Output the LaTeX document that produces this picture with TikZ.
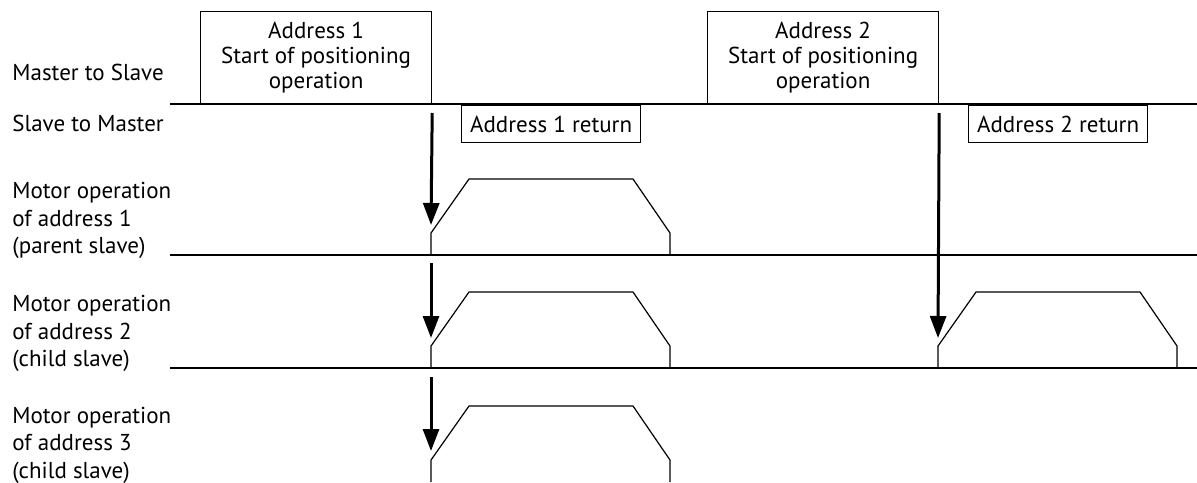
\documentclass[tikz,border=0pt]{standalone}
\usepackage{fontspec}
\setmainfont{PT Sans}
\usetikzlibrary{arrows.meta}

\tikzset{
  lbl/.style={font=\fontsize{11.5}{13.75}\selectfont, align=left, inner sep=0pt, anchor=west},
  cmdbox/.style={draw, line width=0.6pt, font=\fontsize{11.5}{12.5}\selectfont, align=center,
    minimum width=115.5pt, minimum height=46pt, inner sep=0pt, anchor=south west},
  retbox/.style={draw, line width=0.6pt, font=\fontsize{11.5}{12.5}\selectfont,
    minimum width=89.5pt, minimum height=18.5pt, inner sep=0pt, anchor=north west},
  bus/.style={line width=0.6pt},
  trig/.style={line width=1.5pt, -{Triangle[length=11pt,width=8pt]}},
  pulse/.style={line width=0.6pt}
}

\begin{document}
\begin{tikzpicture}[x=0.5pt, y=-0.5pt]

\useasboundingbox (0,0) rectangle (1197,482);

% row labels
\node[lbl] (mts) at (12,72) {Master to Slave};
\node[lbl] (stm) at (12,123) {Slave to Master};
\node[lbl] (mot1) at (12,220.5) {Motor operation\\of address 1\\(parent slave)};
\node[lbl] (mot2) at (12,333.5) {Motor operation\\of address 2\\(child slave)};
\node[lbl] (mot3) at (12,445) {Motor operation\\of address 3\\(child slave)};

% time axes
\coordinate (busA) at (170,104);
\coordinate (busB) at (170,255);
\coordinate (busC) at (170,368);
\draw[bus] (busA) -- (1197,104);
\draw[bus] (busB) -- (1197,255);
\draw[bus] (busC) -- (1197,368);

% messages
\node[cmdbox] (cmd1) at (200,104) {Address 1\\Start of positioning\\operation};
\node[cmdbox] (cmd2) at (707,104) {Address 2\\Start of positioning\\operation};
\node[retbox] (ret1) at (461,105) {Address 1 return};
\node[retbox] (ret2) at (968,105) {Address 2 return};

% start triggers
\coordinate (tip1) at (431,225);
\coordinate (tip2) at (431,338);
\coordinate (tip3) at (431,451);
\coordinate (tip4) at (938,338);
\draw[trig] ([yshift=-4.5pt]cmd1.south east) -- (tip1);
\draw[trig] ([yshift=-4pt]busB -| tip2) -- (tip2);
\draw[trig] ([yshift=-4.5pt]busC -| tip3) -- (tip3);
\draw[trig] ([yshift=-4.5pt]cmd2.south east) -- (tip4);

% motor operation
\foreach \x/\b in {431/255, 431/368, 431/482, 938/368}
  \draw[pulse] (\x,\b) -- ++(0,-22) -- ++(38,-54) -- ++(164,0) -- ++(37,54) -- ++(0,22);

\end{tikzpicture}
\end{document}
